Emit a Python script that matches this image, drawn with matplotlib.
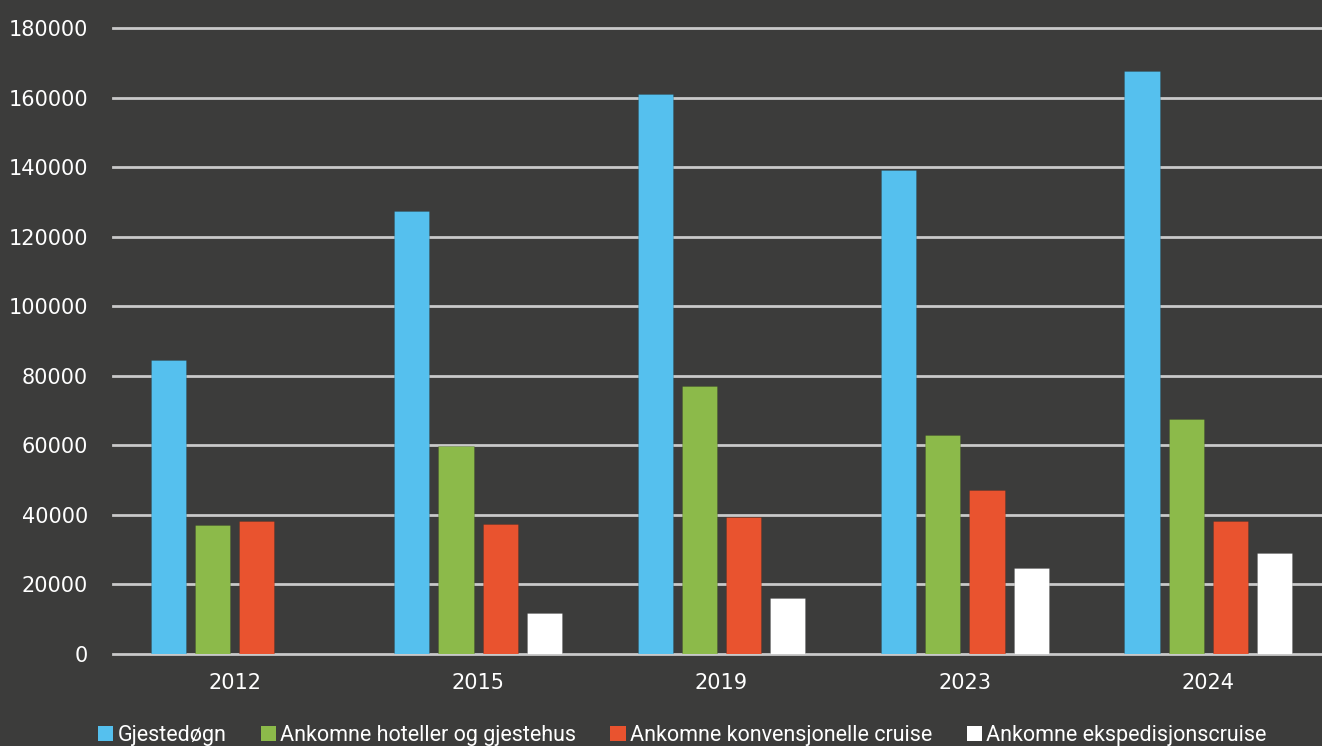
import matplotlib
matplotlib.use("Agg")
import matplotlib.pyplot as plt
from matplotlib.patches import Patch
import numpy as np

# Data
years = ["2012", "2015", "2019", "2023", "2024"]
gjestedogn = [84500, 127400, 161000, 139200, 167600]
hoteller = [37100, 59800, 77000, 63000, 67600]
konvensjonelle = [38200, 37400, 39400, 47200, 38200]
ekspedisjon = [0, 11800, 16100, 24700, 29000]

series_names = [
    "Gjestedøgn",
    "Ankomne hoteller og gjestehus",
    "Ankomne konvensjonelle cruise",
    "Ankomne ekspedisjonscruise",
]
colors = ["#55C0EE", "#8CBA4A", "#E9532F", "#FFFFFF"]

bg = "#3C3C3B"
grid_col = "#C9C9C9"
text_col = "#FFFFFF"

fig = plt.figure(figsize=(13.22, 7.46), dpi=100, facecolor=bg)
# plot area runs slightly past the right edge of the figure
ax = fig.add_axes([113 / 1322, 92 / 746, 1217 / 1322, (654 - 28) / 746])
ax.set_facecolor(bg)

x = np.arange(len(years))
width = 0.145
step = 0.1815
all_series = [gjestedogn, hoteller, konvensjonelle, ekspedisjon]
for i, (vals, col) in enumerate(zip(all_series, colors)):
    ax.bar(x + (i - 1.5) * step, vals, width=width, color=col, zorder=3,
           edgecolor=(0, 0, 0, 0.15), linewidth=0.6)

ax.set_xlim(-0.5, len(years) - 0.5)
ax.set_ylim(0, 180000)
ax.set_yticks(np.arange(0, 180001, 20000))
ax.set_xticks(x)
ax.set_xticklabels(years)

ax.yaxis.grid(True, color=grid_col, linewidth=2, zorder=0)
ax.set_axisbelow(True)
for line in ax.get_ygridlines():
    line.set_clip_on(False)

for s in ax.spines.values():
    s.set_visible(False)

ax.tick_params(axis="both", length=0, colors=text_col, labelsize=15)
ax.tick_params(axis="y", pad=18)
ax.tick_params(axis="x", pad=14)

handles = [Patch(facecolor=c, edgecolor="none") for c in colors]
leg = fig.legend(handles, series_names, loc="center", ncol=4,
                 bbox_to_anchor=(0.516, 0.014), frameon=False,
                 handlelength=0.7, handleheight=0.7, handletextpad=0.2,
                 columnspacing=1.6, borderaxespad=0,
                 prop={"family": ["Roboto", "DejaVu Sans"], "size": 15.5})
for t in leg.get_texts():
    t.set_color(text_col)

fig.savefig("out.png", dpi=100, facecolor=bg)
plt.close(fig)
